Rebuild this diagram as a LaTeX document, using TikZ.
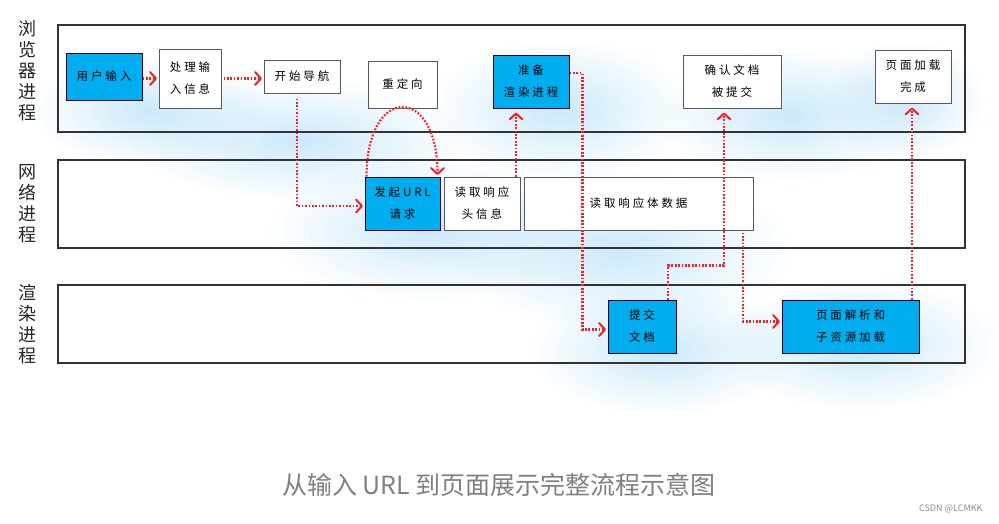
\documentclass[tikz,border=0pt]{standalone}
\usepackage{fontspec}
\newfontfamily\cjk{Noto Sans CJK SC}
\newfontfamily\boxfont[LetterSpace=25]{Noto Sans CJK SC}
\usetikzlibrary{arrows.meta,fadings}
\definecolor{boxblue}{RGB}{0,174,239}
\definecolor{arrred}{RGB}{255,30,30}
\definecolor{glow}{RGB}{190,228,250}
\tikzfading[name=softglow, inner color=transparent!20, outer color=transparent!100]
\begin{document}
\begin{tikzpicture}[x=1pt,y=-1pt,
  lane/.style={draw=black!80,line width=1.6pt},
  lanelabel/.style={font=\cjk\fontsize{18}{21}\selectfont,align=center,text=black!85,inner sep=0pt},
  box/.style={draw=black!65,line width=1pt,fill=white,font=\boxfont\fontsize{11.5}{22}\selectfont,align=center,inner sep=0pt},
  bluebox/.style={box,fill=boxblue,draw=black!75!blue},
  arr/.style={draw=arrred,line width=2.2pt,dash pattern=on 1.7pt off 1.7pt,-{Straight Barb[length=6pt,width=13pt,line width=2pt,round]},shorten >=1.5pt},
  cloud/.style={fill=glow,path fading=softglow}
]
\useasboundingbox (0,0) rectangle (999,523);
\fill[white] (0,0) rectangle (999,523);
% background glow
\fill[cloud] (560,110) ellipse (130 and 70);
\fill[cloud] (790,115) ellipse (130 and 65);
\fill[cloud] (905,100) ellipse (80 and 60);
\fill[cloud] (430,230) ellipse (160 and 70);
\fill[cloud] (620,250) ellipse (170 and 80);
\fill[cloud] (660,350) ellipse (130 and 65);
\fill[cloud] (860,345) ellipse (140 and 65);
\fill[cloud] (300,140) ellipse (170 and 60);
\fill[cloud] (150,110) ellipse (120 and 55);

% lanes
\draw[lane] (58,25) rectangle (965,132);
\draw[lane] (58,160) rectangle (965,248);
\draw[lane] (58,285) rectangle (965,363);
\node[lanelabel] (l1) at (27,71) {浏\\览\\器\\进\\程};
\node[lanelabel] (l2) at (27,204) {网\\络\\进\\程};
\node[lanelabel] (l3) at (27,324) {渲\\染\\进\\程};

% boxes
\node[bluebox,minimum width=76pt,minimum height=47pt] (u) at (104,76.5) {用户输入};
\node[box,minimum width=62pt,minimum height=59pt] (p) at (190,78.5) {处理输\\入信息};
\node[box,minimum width=76pt,minimum height=33pt] (s) at (302,76.5) {开始导航};
\node[box,minimum width=69pt,minimum height=47pt] (r) at (402.5,84.5) {重定向};
\node[bluebox,minimum width=76pt,minimum height=53pt] (z) at (531,81.5) {准备\\渲染进程};
\node[box,minimum width=98pt,minimum height=53pt] (c) at (732,81.5) {确认文档\\被提交};
\node[box,minimum width=76pt,minimum height=53pt] (f) at (913,76.5) {页面加载\\完成};
\node[bluebox,minimum width=75pt,minimum height=53pt] (q) at (402.5,203.5) {发起URL\\请求};
\node[box,minimum width=76pt,minimum height=53pt] (h) at (482,203.5) {读取响应\\头信息};
\node[box,minimum width=229pt,minimum height=53pt] (b) at (638.5,203.5) {读取响应体数据};
\node[bluebox,minimum width=68pt,minimum height=53pt] (t) at (642,326.5) {提交\\文档};
\node[bluebox,minimum width=137pt,minimum height=53pt] (j) at (850.5,326.5) {页面解析和\\子资源加载};

% connectors
\draw[arr] ([yshift=-2pt]u.east) -- (p.west);
\draw[arr,shorten <=2pt] (p.east) -- (p.east -| s.west);
\draw[arr,shorten <=5pt] ([xshift=-5pt]s.south) |- ([yshift=-2.5pt]q.west);
\draw[arr] ([xshift=2pt]q.north west) .. controls +(0,-92) and +(0,-92) .. ([xshift=-3pt]q.north east);
\draw[arr,shorten >=4pt] ([xshift=34pt]h.north) -- ([xshift=-15pt]z.south);
\draw[arr] ([yshift=8.5pt]z.east) -- ++(13,0) |- ([yshift=-3pt]t.west);
\draw[arr,shorten >=4pt] ([xshift=26pt]t.north) -- ++(0,-34) -| ([xshift=-8pt]c.south);
\draw[arr,shorten <=2pt] ([xshift=104.5pt]b.south) |- ([yshift=5pt]j.west);
\draw[arr,shorten >=4pt] ([xshift=61.5pt]j.north) -- ([xshift=-1pt]f.south);

% caption
\node[font=\cjk\fontsize{25}{28}\selectfont,text=black!50] (title) at (499,485) {从输入 URL 到页面展示完整流程示意图};
\node[font=\cjk\fontsize{9}{10}\selectfont,text=black!45,anchor=east] (wm) at (986,509) {CSDN @LCMKK};
\end{tikzpicture}
\end{document}
